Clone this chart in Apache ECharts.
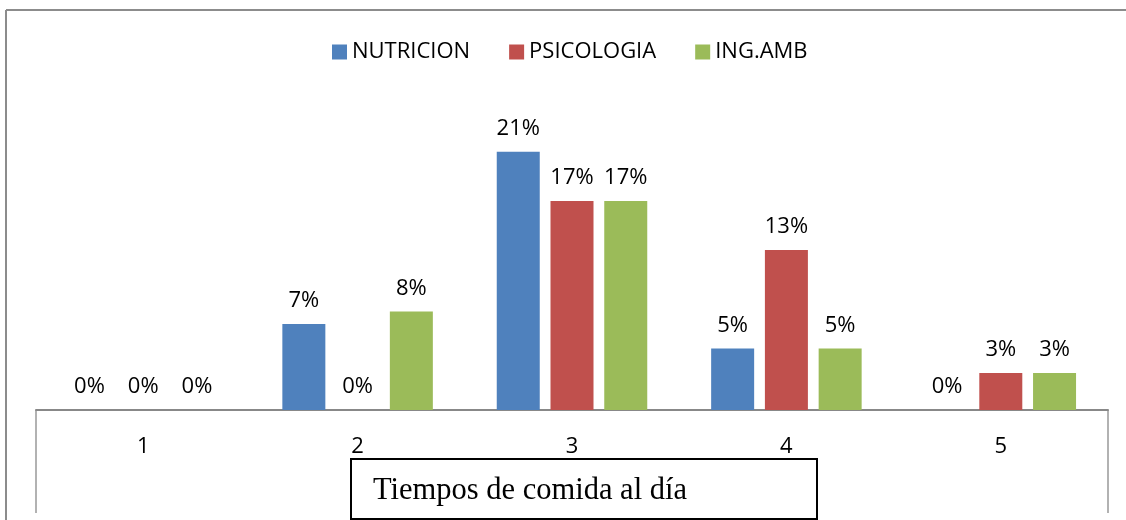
<!DOCTYPE html>
<html>
<head>
<meta charset="utf-8">
<script src="https://cdn.jsdelivr.net/npm/echarts@6/dist/echarts.min.js"></script>
<style>
  html, body { margin: 0; padding: 0; background: #fff; }
  #chart { width: 1126px; height: 520px; }
</style>
</head>
<body>
<div id="chart"></div>
<script>
// datos
const categories = ['1', '2', '3', '4', '5'];
const nutricion = [0, 7, 21, 5, 0];
const psicologia = [0, 0, 17, 13, 3];
const ingAmb = [0, 8, 17, 5, 3];
const seriesNames = ['NUTRICION', 'PSICOLOGIA', 'ING.AMB'];
const colors = ['#4F81BD', '#C0504D', '#9BBB59'];

const font = 'Open Sans';

function makeSeries(name, data, color) {
  return {
    name,
    type: 'bar',
    data,
    barWidth: 43,
    barGap: '25%',
    itemStyle: { color },
    label: {
      show: true,
      position: 'top',
      distance: 12,
      color: '#000',
      fontFamily: font,
      fontSize: 22,
      formatter: p => `${p.value}%`,
    },
  };
}

const chart = echarts.init(document.getElementById('chart'));
chart.setOption({
  animation: false,
  legend: {
    left: 327,
    top: 36,
    itemWidth: 15,
    itemHeight: 15,
    itemGap: 39,
    icon: 'rect',
    textStyle: { fontFamily: font, fontSize: 22, color: '#000' },
    data: seriesNames,
  },
  grid: { left: 36, right: 18, top: 102.5, bottom: 110 },
  xAxis: {
    type: 'category',
    data: categories,
    axisLine: { lineStyle: { color: '#888', width: 2 } },
    axisTick: { show: false },
    axisLabel: { color: '#000', fontFamily: font, fontSize: 22, margin: 26 },
  },
  yAxis: {
    type: 'value',
    min: 0,
    max: 25,
    show: false,
    splitLine: { show: false },
  },
  series: [
    makeSeries(seriesNames[0], nutricion, colors[0]),
    makeSeries(seriesNames[1], psicologia, colors[1]),
    makeSeries(seriesNames[2], ingAmb, colors[2]),
  ],
  graphic: [
    // marco exterior
    { type: 'line', shape: { x1: 6, y1: 10, x2: 1126, y2: 10 }, style: { stroke: '#8c8c8c', lineWidth: 2 } },
    { type: 'line', shape: { x1: 6, y1: 10, x2: 6, y2: 520 }, style: { stroke: '#8c8c8c', lineWidth: 2 } },
    // lados del eje
    { type: 'line', shape: { x1: 36, y1: 410, x2: 36, y2: 513 }, style: { stroke: '#999', lineWidth: 1.5 } },
    { type: 'line', shape: { x1: 1108, y1: 410, x2: 1108, y2: 513 }, style: { stroke: '#999', lineWidth: 1.5 } },
    // caja del titulo
    {
      type: 'rect',
      shape: { x: 351, y: 459, width: 466, height: 60 },
      style: { fill: '#fff', stroke: '#000', lineWidth: 2 },
    },
    {
      type: 'text',
      left: 373,
      top: 475,
      style: {
        text: 'Tiempos de comida al día',
        fontFamily: 'Liberation Serif',
        fontSize: 30.5,
        fill: '#000',
      },
    },
  ],
});
</script>
</body>
</html>
